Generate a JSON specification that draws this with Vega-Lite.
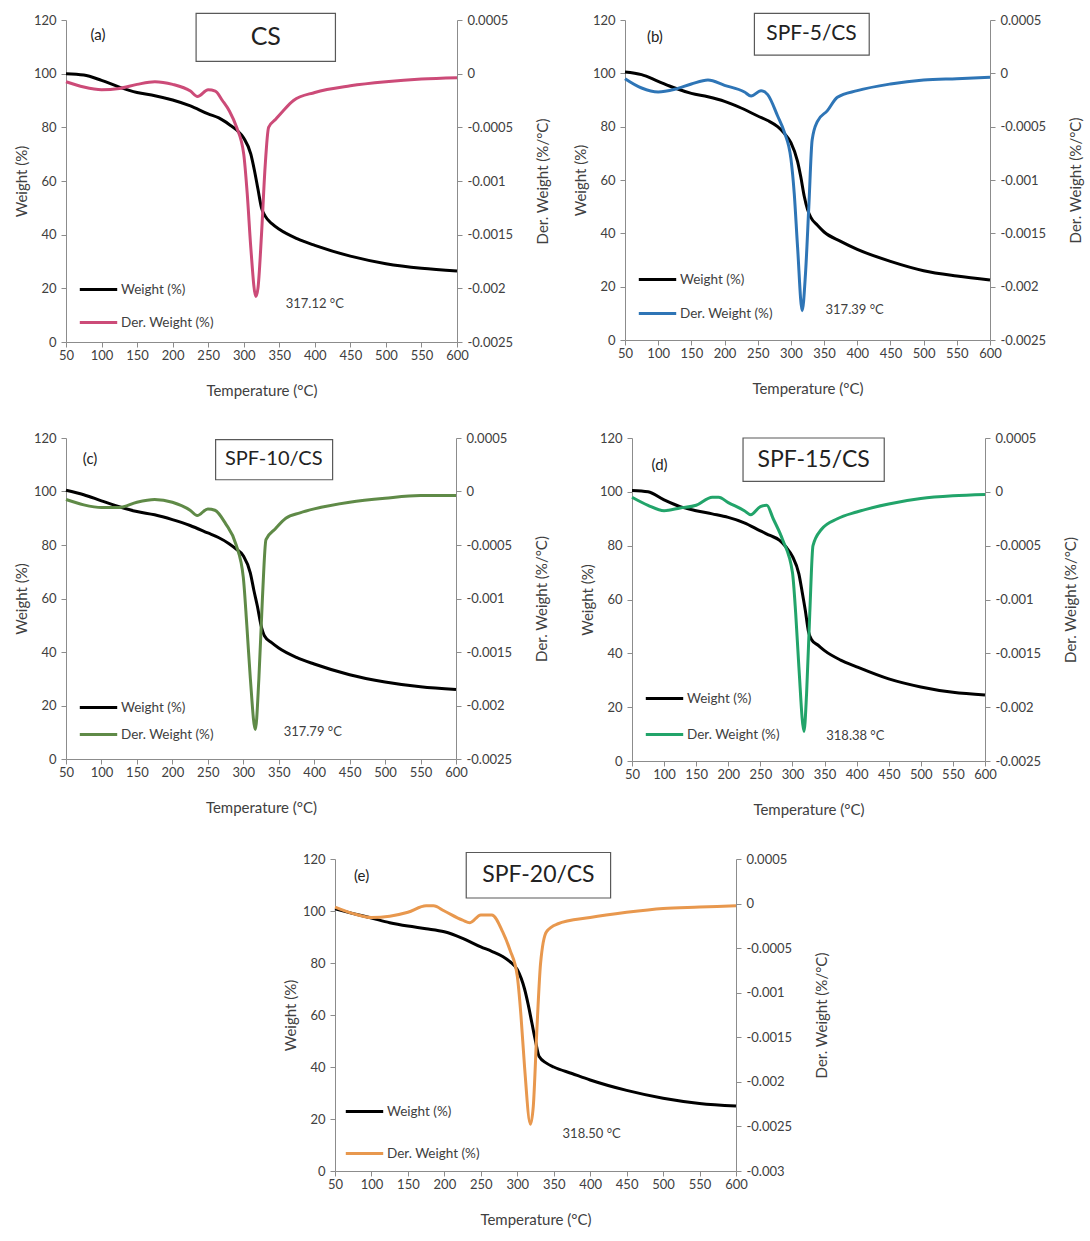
{
 "$schema": "https://vega.github.io/schema/vega-lite/v6.json",
 "background": "white",
 "padding": {"left": 14, "top": 12, "right": 2, "bottom": 4},
 "config": {
  "font": "Lato",
  "view": {"stroke": null},
  "axis": {"grid": false, "domainColor": "#8c8c8c", "tickColor": "#8c8c8c", "labelColor": "#404040", "titleColor": "#404040", "labelFontSize": 13, "titleFontSize": 15, "titleFontWeight": "normal", "tickSize": 5, "labelFont": "Lato", "titleFont": "Lato", "labelOverlap": false, "labelFlush": false},
  "axisX": {"titlePadding": 21, "labelPadding": 2, "labelOverlap": false, "tickCount": 12},
  "axisLeft": {"labelPadding": 5, "titlePadding": 4},
  "axisRight": {"labelPadding": 5, "titlePadding": 38, "titleAngle": -90},
  "legend": {"symbolType": "stroke", "symbolStrokeWidth": 3, "symbolSize": 1400, "labelFontSize": 13.5, "labelColor": "#404040", "labelFont": "Lato", "labelOffset": 2, "rowPadding": 6}
 },
 "datasets": {
  "wa": [{"T":50,"w":100},{"T":75,"w":99.5},{"T":100,"w":97.5},{"T":125,"w":95},{"T":150,"w":93},{"T":175,"w":91.8},{"T":200,"w":90.2},{"T":225,"w":88},{"T":250,"w":85},{"T":265,"w":83.5},{"T":280,"w":81},{"T":290,"w":79},{"T":300,"w":76},{"T":310,"w":70},{"T":315,"w":64},{"T":320,"w":57},{"T":325,"w":50},{"T":330,"w":47},{"T":340,"w":44},{"T":350,"w":42},{"T":375,"w":38.5},{"T":400,"w":36},{"T":450,"w":32},{"T":500,"w":29.2},{"T":550,"w":27.5},{"T":600,"w":26.5}],
  "da": [{"T":50,"d":-0.000075},{"T":75,"d":-0.000125},{"T":100,"d":-0.00015},{"T":125,"d":-0.0001375},{"T":150,"d":-0.0001},{"T":175,"d":-0.000075},{"T":200,"d":-0.0001},{"T":225,"d":-0.0001625},{"T":235,"d":-0.0002125},{"T":250,"d":-0.00015},{"T":260,"d":-0.0001625},{"T":270,"d":-0.00025},{"T":280,"d":-0.00035},{"T":290,"d":-0.0005},{"T":300,"d":-0.00075},{"T":305,"d":-0.001125},{"T":310,"d":-0.001625},{"T":317,"d":-0.002075},{"T":320,"d":-0.002},{"T":325,"d":-0.0015},{"T":330,"d":-0.000875},{"T":335,"d":-0.0005},{"T":345,"d":-0.000425},{"T":355,"d":-0.00035},{"T":370,"d":-0.00025},{"T":400,"d":-0.000175},{"T":450,"d":-0.0001125},{"T":500,"d":-0.000075},{"T":550,"d":-0.00005},{"T":600,"d":-0.0000375}],
  "wb": [{"T":50,"w":100.5},{"T":75,"w":99.5},{"T":100,"w":97},{"T":125,"w":94.5},{"T":150,"w":92.5},{"T":175,"w":91.2},{"T":200,"w":89.5},{"T":225,"w":87},{"T":250,"w":84},{"T":265,"w":82.3},{"T":280,"w":80},{"T":290,"w":77.5},{"T":300,"w":74},{"T":310,"w":67},{"T":315,"w":61},{"T":320,"w":54},{"T":325,"w":49},{"T":330,"w":46},{"T":340,"w":43},{"T":350,"w":40.5},{"T":375,"w":37},{"T":400,"w":34},{"T":450,"w":29.5},{"T":500,"w":26},{"T":550,"w":24},{"T":600,"w":22.5}],
  "db": [{"T":50,"d":-0.00005},{"T":75,"d":-0.0001375},{"T":100,"d":-0.000175},{"T":125,"d":-0.00015},{"T":150,"d":-0.0001},{"T":175,"d":-0.0000625},{"T":200,"d":-0.0001125},{"T":230,"d":-0.000175},{"T":240,"d":-0.0002125},{"T":255,"d":-0.0001625},{"T":265,"d":-0.0002},{"T":280,"d":-0.0004},{"T":290,"d":-0.00055},{"T":300,"d":-0.0008},{"T":305,"d":-0.001125},{"T":310,"d":-0.001625},{"T":317,"d":-0.002225},{"T":322,"d":-0.001875},{"T":327,"d":-0.00125},{"T":332,"d":-0.000625},{"T":340,"d":-0.00045},{"T":355,"d":-0.00035},{"T":370,"d":-0.000225},{"T":400,"d":-0.0001625},{"T":450,"d":-0.0001},{"T":500,"d":-0.0000625},{"T":550,"d":-0.00005},{"T":600,"d":-0.0000375}],
  "wc": [{"T":50,"w":100.5},{"T":75,"w":98.8},{"T":100,"w":96.5},{"T":125,"w":94.3},{"T":150,"w":92.5},{"T":175,"w":91.3},{"T":200,"w":89.5},{"T":225,"w":87.3},{"T":250,"w":84.5},{"T":265,"w":82.8},{"T":280,"w":80.5},{"T":290,"w":78.5},{"T":300,"w":76},{"T":310,"w":69.5},{"T":315,"w":63},{"T":320,"w":57},{"T":325,"w":50},{"T":330,"w":46},{"T":340,"w":43.5},{"T":350,"w":41.5},{"T":375,"w":38},{"T":400,"w":35.5},{"T":450,"w":31.5},{"T":500,"w":28.8},{"T":550,"w":27},{"T":600,"w":26}],
  "dc": [{"T":50,"d":-0.000075},{"T":75,"d":-0.000125},{"T":100,"d":-0.00015},{"T":125,"d":-0.00015},{"T":150,"d":-0.0001},{"T":175,"d":-0.000075},{"T":200,"d":-0.0001},{"T":225,"d":-0.000175},{"T":235,"d":-0.000225},{"T":250,"d":-0.0001625},{"T":260,"d":-0.000175},{"T":275,"d":-0.0003},{"T":290,"d":-0.0005},{"T":300,"d":-0.0008},{"T":305,"d":-0.00125},{"T":310,"d":-0.00175},{"T":317,"d":-0.002225},{"T":322,"d":-0.00175},{"T":327,"d":-0.001},{"T":332,"d":-0.00045},{"T":345,"d":-0.00035},{"T":360,"d":-0.00025},{"T":380,"d":-0.0002},{"T":400,"d":-0.0001625},{"T":450,"d":-0.0001},{"T":500,"d":-0.0000625},{"T":550,"d":-0.0000375},{"T":600,"d":-0.0000375}],
  "wd": [{"T":50,"w":100.5},{"T":75,"w":100},{"T":100,"w":97},{"T":125,"w":94.5},{"T":150,"w":93},{"T":175,"w":91.8},{"T":200,"w":90.5},{"T":225,"w":88.5},{"T":250,"w":85.5},{"T":265,"w":83.8},{"T":280,"w":82},{"T":290,"w":79.5},{"T":300,"w":76},{"T":310,"w":69.5},{"T":315,"w":63},{"T":320,"w":56},{"T":325,"w":48},{"T":330,"w":45},{"T":340,"w":43},{"T":350,"w":41},{"T":375,"w":37.5},{"T":400,"w":35},{"T":450,"w":30.5},{"T":500,"w":27.5},{"T":550,"w":25.5},{"T":600,"w":24.5}],
  "dd": [{"T":50,"d":-0.00005},{"T":75,"d":-0.000125},{"T":100,"d":-0.000175},{"T":125,"d":-0.00015},{"T":150,"d":-0.000125},{"T":175,"d":-0.00005},{"T":185,"d":-0.00005},{"T":200,"d":-0.0001},{"T":225,"d":-0.000175},{"T":235,"d":-0.0002125},{"T":250,"d":-0.0001375},{"T":260,"d":-0.000125},{"T":270,"d":-0.00025},{"T":285,"d":-0.00045},{"T":300,"d":-0.00075},{"T":305,"d":-0.001125},{"T":310,"d":-0.001625},{"T":318,"d":-0.002225},{"T":322,"d":-0.001875},{"T":327,"d":-0.001125},{"T":332,"d":-0.0005},{"T":345,"d":-0.00035},{"T":370,"d":-0.00025},{"T":400,"d":-0.0001875},{"T":450,"d":-0.0001125},{"T":500,"d":-0.0000625},{"T":550,"d":-0.0000375},{"T":600,"d":-0.000025}],
  "we": [{"T":50,"w":100.8},{"T":75,"w":99},{"T":100,"w":97.3},{"T":125,"w":95.5},{"T":150,"w":94.2},{"T":175,"w":93.2},{"T":200,"w":92},{"T":225,"w":89.5},{"T":250,"w":86.2},{"T":265,"w":84.5},{"T":280,"w":82.5},{"T":290,"w":80.5},{"T":300,"w":77.5},{"T":310,"w":70},{"T":315,"w":64},{"T":320,"w":57},{"T":325,"w":50},{"T":330,"w":44},{"T":340,"w":41.5},{"T":350,"w":40},{"T":375,"w":37.5},{"T":400,"w":35},{"T":450,"w":31},{"T":500,"w":28},{"T":550,"w":26},{"T":600,"w":25}],
  "de": [{"T":50,"d":-0.0000397},{"T":75,"d":-0.0001126},{"T":100,"d":-0.0001563},{"T":125,"d":-0.0001418},{"T":150,"d":-0.000098},{"T":175,"d":-0.0000251},{"T":185,"d":-0.0000251},{"T":200,"d":-0.0000834},{"T":225,"d":-0.0001855},{"T":235,"d":-0.0002147},{"T":250,"d":-0.0001272},{"T":265,"d":-0.0001272},{"T":280,"d":-0.0003168},{"T":290,"d":-0.0005209},{"T":300,"d":-0.0008126},{"T":305,"d":-0.0012501},{"T":310,"d":-0.0018334},{"T":318,"d":-0.0024751},{"T":322,"d":-0.0022709},{"T":327,"d":-0.0013959},{"T":332,"d":-0.0006668},{"T":340,"d":-0.0003168},{"T":355,"d":-0.0002293},{"T":400,"d":-0.0001563},{"T":450,"d":-0.000098},{"T":500,"d":-0.0000543},{"T":550,"d":-0.0000397},{"T":600,"d":-0.0000251}],
  "none": []
 },
 "spacing": 34,
 "center": false,
 "resolve": {"scale": {"color": "independent"}},
 "vconcat": [
  {"hconcat": [
   {"width": 391, "height": 322, "resolve": {"scale": {"y": "independent"}},
    "layer": [
     {"layer": [
      {"data": {"name": "wa"}, "mark": {"type": "line", "strokeWidth": 3, "interpolate": "monotone"},
       "encoding": {
        "x": {"field": "T", "type": "quantitative", "scale": {"domain": [50, 600], "nice": false}, "axis": {"values": [50,100,150,200,250,300,350,400,450,500,550,600], "tickCount": 12, "labelOverlap": false, "title": "Temperature (°C)"}},
        "y": {"field": "w", "type": "quantitative", "scale": {"domain": [0, 120], "nice": false}, "axis": {"values": [0,20,40,60,80,100,120], "tickCount": 7, "title": "Weight (%)"}},
        "color": {"datum": "Weight (%)", "scale": {"domain": ["Weight (%)", "Der. Weight (%)"], "range": ["#000000", "#cc4b78"]}, "legend": {"title": null, "orient": "none", "legendX": 12, "legendY": 249, "rowPadding": 6}}}},
      {"data": {"values": [{}]}, "mark": {"type": "rect", "fill": "white", "stroke": "#595959", "strokeWidth": 1.2, "clip": false},
       "encoding": {"x": {"datum": 233}, "x2": {"datum": 429}, "y": {"datum": 104.6}, "y2": {"datum": 122.5}}},
      {"data": {"values": [{}]}, "mark": {"type": "text", "text": "CS", "fontSize": 25, "color": "#222222"},
       "encoding": {"x": {"datum": 331}, "y": {"datum": 113.5}}},
      {"data": {"values": [{}]}, "mark": {"type": "text", "text": "(a)", "fontSize": 15, "color": "#222222"},
       "encoding": {"x": {"datum": 95}, "y": {"datum": 114.5}}},
      {"data": {"values": [{}]}, "mark": {"type": "text", "text": "317.12 °C", "fontSize": 13, "color": "#404040"},
       "encoding": {"x": {"datum": 400}, "y": {"datum": 14.2}}}
     ]},
     {"data": {"name": "da"}, "mark": {"type": "line", "strokeWidth": 3, "interpolate": "monotone"},
      "encoding": {
       "x": {"field": "T", "type": "quantitative"},
       "y": {"field": "d", "type": "quantitative", "scale": {"domain": [-0.0025, 0.0005], "nice": false, "zero": false}, "axis": {"orient": "right", "values": [0.0005,0,-0.0005,-0.001,-0.0015,-0.002,-0.0025], "tickCount": 7, "labelExpr": "replace(format(datum.value, '~g'), '−', '-')", "title": "Der. Weight (%/°C)"}},
       "color": {"datum": "Der. Weight (%)"}}}
    ]},
   {"width": 365, "height": 320, "resolve": {"scale": {"y": "independent"}},
    "layer": [
     {"layer": [
      {"data": {"name": "wb"}, "mark": {"type": "line", "strokeWidth": 3, "interpolate": "monotone"},
       "encoding": {
        "x": {"field": "T", "type": "quantitative", "scale": {"domain": [50, 600], "nice": false}, "axis": {"values": [50,100,150,200,250,300,350,400,450,500,550,600], "tickCount": 12, "labelOverlap": false, "title": "Temperature (°C)"}},
        "y": {"field": "w", "type": "quantitative", "scale": {"domain": [0, 120], "nice": false}, "axis": {"values": [0,20,40,60,80,100,120], "tickCount": 7, "title": "Weight (%)"}},
        "color": {"datum": "Weight (%)", "scale": {"domain": ["Weight (%)", "Der. Weight (%)"], "range": ["#000000", "#2e75b6"]}, "legend": {"title": null, "orient": "none", "legendX": 12, "legendY": 239, "rowPadding": 7}}}},
      {"data": {"values": [{}]}, "mark": {"type": "rect", "fill": "white", "stroke": "#595959", "strokeWidth": 1.2, "clip": false},
       "encoding": {"x": {"datum": 245}, "x2": {"datum": 418}, "y": {"datum": 106.8}, "y2": {"datum": 122.5}}},
      {"data": {"values": [{}]}, "mark": {"type": "text", "text": "SPF-5/CS", "fontSize": 21, "color": "#222222"},
       "encoding": {"x": {"datum": 331}, "y": {"datum": 114.6}}},
      {"data": {"values": [{}]}, "mark": {"type": "text", "text": "(b)", "fontSize": 15, "color": "#222222"},
       "encoding": {"x": {"datum": 95}, "y": {"datum": 113.7}}},
      {"data": {"values": [{}]}, "mark": {"type": "text", "text": "317.39 °C", "fontSize": 13, "color": "#404040"},
       "encoding": {"x": {"datum": 396}, "y": {"datum": 11.3}}}
     ]},
     {"data": {"name": "db"}, "mark": {"type": "line", "strokeWidth": 3, "interpolate": "monotone"},
      "encoding": {
       "x": {"field": "T", "type": "quantitative"},
       "y": {"field": "d", "type": "quantitative", "scale": {"domain": [-0.0025, 0.0005], "nice": false, "zero": false}, "axis": {"orient": "right", "values": [0.0005,0,-0.0005,-0.001,-0.0015,-0.002,-0.0025], "tickCount": 7, "labelExpr": "replace(format(datum.value, '~g'), '−', '-')", "title": "Der. Weight (%/°C)"}},
       "color": {"datum": "Der. Weight (%)"}}}
    ]}
  ], "spacing": 22, "resolve": {"scale": {"color": "independent"}}},
  {"hconcat": [
   {"width": 390, "height": 321, "resolve": {"scale": {"y": "independent"}},
    "layer": [
     {"layer": [
      {"data": {"name": "wc"}, "mark": {"type": "line", "strokeWidth": 3, "interpolate": "monotone"},
       "encoding": {
        "x": {"field": "T", "type": "quantitative", "scale": {"domain": [50, 600], "nice": false}, "axis": {"values": [50,100,150,200,250,300,350,400,450,500,550,600], "tickCount": 12, "labelOverlap": false, "title": "Temperature (°C)"}},
        "y": {"field": "w", "type": "quantitative", "scale": {"domain": [0, 120], "nice": false}, "axis": {"values": [0,20,40,60,80,100,120], "tickCount": 7, "title": "Weight (%)"}},
        "color": {"datum": "Weight (%)", "scale": {"domain": ["Weight (%)", "Der. Weight (%)"], "range": ["#000000", "#5f8a47"]}, "legend": {"title": null, "orient": "none", "legendX": 12, "legendY": 249, "rowPadding": -3}}}},
      {"data": {"values": [{}]}, "mark": {"type": "rect", "fill": "white", "stroke": "#595959", "strokeWidth": 1.2, "clip": false},
       "encoding": {"x": {"datum": 261}, "x2": {"datum": 426}, "y": {"datum": 104.4}, "y2": {"datum": 119.4}}},
      {"data": {"values": [{}]}, "mark": {"type": "text", "text": "SPF-10/CS", "fontSize": 20, "color": "#222222"},
       "encoding": {"x": {"datum": 343}, "y": {"datum": 112}}},
      {"data": {"values": [{}]}, "mark": {"type": "text", "text": "(c)", "fontSize": 15, "color": "#222222"},
       "encoding": {"x": {"datum": 84}, "y": {"datum": 112}}},
      {"data": {"values": [{}]}, "mark": {"type": "text", "text": "317.79 °C", "fontSize": 13, "color": "#404040"},
       "encoding": {"x": {"datum": 398}, "y": {"datum": 10}}}
     ]},
     {"data": {"name": "dc"}, "mark": {"type": "line", "strokeWidth": 3, "interpolate": "monotone"},
      "encoding": {
       "x": {"field": "T", "type": "quantitative"},
       "y": {"field": "d", "type": "quantitative", "scale": {"domain": [-0.0025, 0.0005], "nice": false, "zero": false}, "axis": {"orient": "right", "values": [0.0005,0,-0.0005,-0.001,-0.0015,-0.002,-0.0025], "tickCount": 7, "labelExpr": "replace(format(datum.value, '~g'), '−', '-')", "title": "Der. Weight (%/°C)"}},
       "color": {"datum": "Der. Weight (%)"}}}
    ]},
   {"width": 353, "height": 323, "resolve": {"scale": {"y": "independent"}},
    "layer": [
     {"layer": [
      {"data": {"name": "wd"}, "mark": {"type": "line", "strokeWidth": 3, "interpolate": "monotone"},
       "encoding": {
        "x": {"field": "T", "type": "quantitative", "scale": {"domain": [50, 600], "nice": false}, "axis": {"values": [50,100,150,200,250,300,350,400,450,500,550,600], "tickCount": 12, "labelOverlap": false, "title": "Temperature (°C)"}},
        "y": {"field": "w", "type": "quantitative", "scale": {"domain": [0, 120], "nice": false}, "axis": {"values": [0,20,40,60,80,100,120], "tickCount": 7, "title": "Weight (%)"}},
        "color": {"datum": "Weight (%)", "scale": {"domain": ["Weight (%)", "Der. Weight (%)"], "range": ["#000000", "#22a46a"]}, "legend": {"title": null, "orient": "none", "legendX": 12, "legendY": 240, "rowPadding": 9}}}},
      {"data": {"values": [{}]}, "mark": {"type": "rect", "fill": "white", "stroke": "#595959", "strokeWidth": 1.2, "clip": false},
       "encoding": {"x": {"datum": 223}, "x2": {"datum": 443}, "y": {"datum": 103.9}, "y2": {"datum": 120}}},
      {"data": {"values": [{}]}, "mark": {"type": "text", "text": "SPF-15/CS", "fontSize": 23, "color": "#222222"},
       "encoding": {"x": {"datum": 333}, "y": {"datum": 112}}},
      {"data": {"values": [{}]}, "mark": {"type": "text", "text": "(d)", "fontSize": 15, "color": "#222222"},
       "encoding": {"x": {"datum": 93}, "y": {"datum": 110}}},
      {"data": {"values": [{}]}, "mark": {"type": "text", "text": "318.38 °C", "fontSize": 13, "color": "#404040"},
       "encoding": {"x": {"datum": 398}, "y": {"datum": 9.3}}}
     ]},
     {"data": {"name": "dd"}, "mark": {"type": "line", "strokeWidth": 3, "interpolate": "monotone"},
      "encoding": {
       "x": {"field": "T", "type": "quantitative"},
       "y": {"field": "d", "type": "quantitative", "scale": {"domain": [-0.0025, 0.0005], "nice": false, "zero": false}, "axis": {"orient": "right", "values": [0.0005,0,-0.0005,-0.001,-0.0015,-0.002,-0.0025], "tickCount": 7, "labelExpr": "replace(format(datum.value, '~g'), '−', '-')", "title": "Der. Weight (%/°C)"}},
       "color": {"datum": "Der. Weight (%)"}}}
    ]}
  ], "spacing": 30, "resolve": {"scale": {"color": "independent"}}},
  {"hconcat": [
   {"width": 197, "height": 10, "data": {"name": "none"}, "mark": "point"},
   {"width": 401, "height": 312, "resolve": {"scale": {"y": "independent"}},
    "layer": [
     {"layer": [
      {"data": {"name": "we"}, "mark": {"type": "line", "strokeWidth": 3, "interpolate": "monotone"},
       "encoding": {
        "x": {"field": "T", "type": "quantitative", "scale": {"domain": [50, 600], "nice": false}, "axis": {"values": [50,100,150,200,250,300,350,400,450,500,550,600], "tickCount": 12, "labelOverlap": false, "title": "Temperature (°C)"}},
        "y": {"field": "w", "type": "quantitative", "scale": {"domain": [0, 120], "nice": false}, "axis": {"values": [0,20,40,60,80,100,120], "tickCount": 7, "title": "Weight (%)"}},
        "color": {"datum": "Weight (%)", "scale": {"domain": ["Weight (%)", "Der. Weight (%)"], "range": ["#000000", "#e8984e"]}, "legend": {"title": null, "orient": "none", "legendX": 9, "legendY": 232, "rowPadding": 15}}}},
      {"data": {"values": [{}]}, "mark": {"type": "rect", "fill": "white", "stroke": "#595959", "strokeWidth": 1.2, "clip": false},
       "encoding": {"x": {"datum": 230}, "x2": {"datum": 428}, "y": {"datum": 105}, "y2": {"datum": 122.5}}},
      {"data": {"values": [{}]}, "mark": {"type": "text", "text": "SPF-20/CS", "fontSize": 23, "color": "#222222"},
       "encoding": {"x": {"datum": 329}, "y": {"datum": 114}}},
      {"data": {"values": [{}]}, "mark": {"type": "text", "text": "(e)", "fontSize": 15, "color": "#222222"},
       "encoding": {"x": {"datum": 86.5}, "y": {"datum": 113.5}}},
      {"data": {"values": [{}]}, "mark": {"type": "text", "text": "318.50 °C", "fontSize": 13, "color": "#404040"},
       "encoding": {"x": {"datum": 402}, "y": {"datum": 14.3}}}
     ]},
     {"data": {"name": "de"}, "mark": {"type": "line", "strokeWidth": 3, "interpolate": "monotone"},
      "encoding": {
       "x": {"field": "T", "type": "quantitative"},
       "y": {"field": "d", "type": "quantitative", "scale": {"domain": [-0.003, 0.0005], "nice": false, "zero": false}, "axis": {"orient": "right", "values": [0.0005,0,-0.0005,-0.001,-0.0015,-0.002,-0.0025,-0.003], "tickCount": 8, "labelExpr": "replace(format(datum.value, '~g'), '−', '-')", "title": "Der. Weight (%/°C)"}},
       "color": {"datum": "Der. Weight (%)"}}}
    ]}
  ], "spacing": 20, "resolve": {"scale": {"color": "independent"}}}
 ]
}
